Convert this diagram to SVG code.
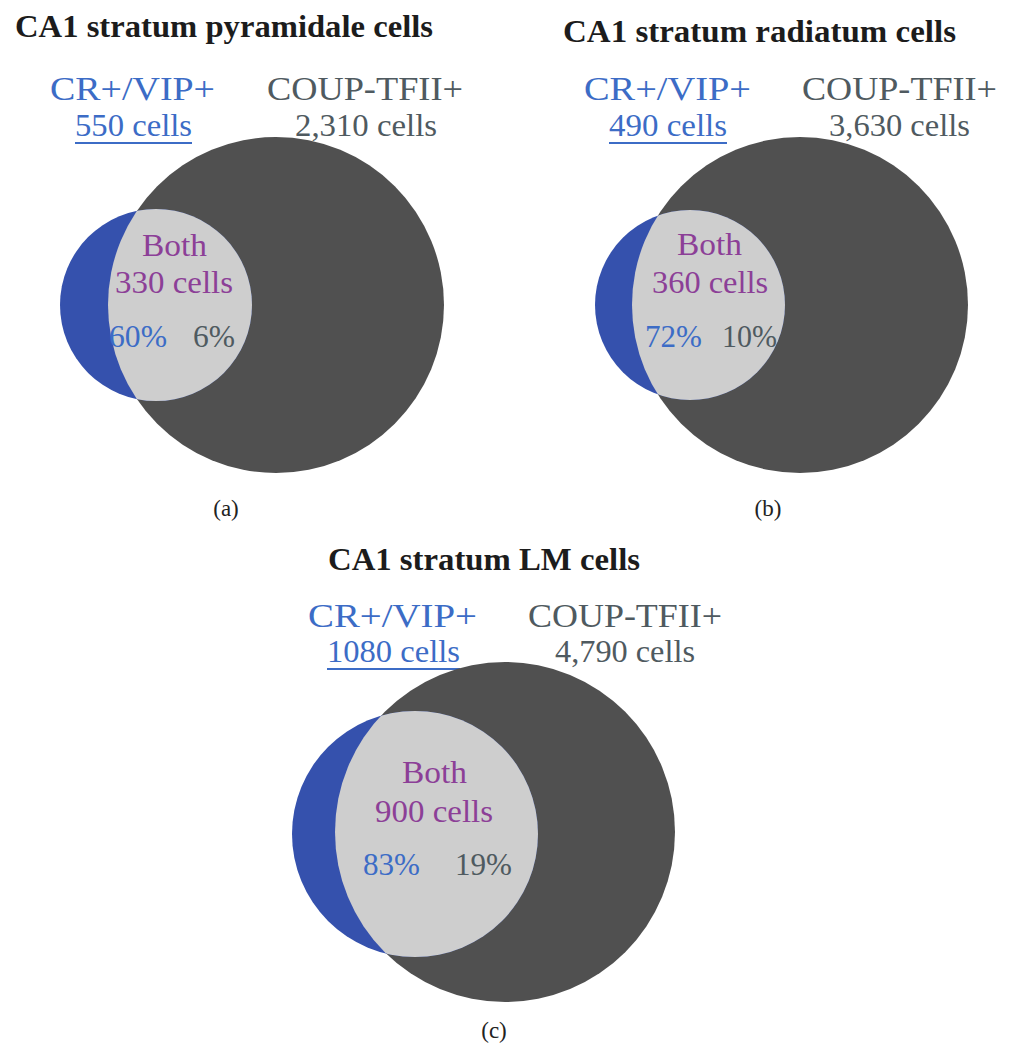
<svg xmlns="http://www.w3.org/2000/svg" width="1019" height="1050" viewBox="0 0 1019 1050">
<style>
text{font-family:"Liberation Serif","DejaVu Serif",serif}
.title{font-size:31px;font-weight:bold;fill:#1c1c1c}
.lab{font-size:34px}
.cnt{font-size:31px}
.blue{fill:#3c6cc6}
.gry{fill:#4f5a60}
.pur{fill:#8c3f97}
.cap{font-size:23px;fill:#222}
.dark{fill:#505050}
.bl{fill:#3551ad}
.lg{fill:#cecece}
.ul{stroke:#3c6cc6;stroke-width:2}
</style>
<defs>
<clipPath id="ca"><circle cx="276" cy="305" r="168"/></clipPath>
<clipPath id="cb"><circle cx="800" cy="305" r="168"/></clipPath>
<clipPath id="cc"><circle cx="505" cy="832" r="170"/></clipPath>
</defs>
<rect width="1019" height="1050" fill="#ffffff"/>

<g id="venn-a">
<text class="title" x="15" y="37" textLength="418" lengthAdjust="spacingAndGlyphs">CA1 stratum pyramidale cells</text>
<text class="lab blue" x="50" y="100" textLength="165" lengthAdjust="spacingAndGlyphs">CR+/VIP+</text>
<text class="cnt blue" x="75" y="136" textLength="117" lengthAdjust="spacingAndGlyphs">550 cells</text>
<line class="ul" x1="75" y1="143" x2="192" y2="143"/>
<text class="lab gry" x="267" y="100" textLength="196" lengthAdjust="spacingAndGlyphs">COUP-TFII+</text>
<text class="cnt gry" x="295" y="136" textLength="142" lengthAdjust="spacingAndGlyphs">2,310 cells</text>
<circle class="dark" cx="276" cy="305" r="168"/>
<circle class="bl" cx="156" cy="305" r="96"/>
<circle class="lg" cx="156" cy="305" r="96" clip-path="url(#ca)"/>
<text class="cnt pur" x="142" y="256" textLength="65" lengthAdjust="spacingAndGlyphs">Both</text>
<text class="cnt pur" x="115" y="293" textLength="118" lengthAdjust="spacingAndGlyphs">330 cells</text>
<text class="cnt blue" x="109" y="347" textLength="58" lengthAdjust="spacingAndGlyphs">60%</text>
<text class="cnt gry" x="193" y="347" textLength="42" lengthAdjust="spacingAndGlyphs">6%</text>
<text class="cap" x="226" y="516" text-anchor="middle">(a)</text>
</g>

<g id="venn-b">
<text class="title" x="563" y="42" textLength="393" lengthAdjust="spacingAndGlyphs">CA1 stratum radiatum cells</text>
<text class="lab blue" x="584" y="100" textLength="167" lengthAdjust="spacingAndGlyphs">CR+/VIP+</text>
<text class="cnt blue" x="609" y="136" textLength="118" lengthAdjust="spacingAndGlyphs">490 cells</text>
<line class="ul" x1="609" y1="143" x2="727" y2="143"/>
<text class="lab gry" x="802" y="100" textLength="195" lengthAdjust="spacingAndGlyphs">COUP-TFII+</text>
<text class="cnt gry" x="829" y="136" textLength="141" lengthAdjust="spacingAndGlyphs">3,630 cells</text>
<circle class="dark" cx="800" cy="305" r="168"/>
<circle class="bl" cx="690" cy="305" r="95"/>
<circle class="lg" cx="690" cy="305" r="95" clip-path="url(#cb)"/>
<text class="cnt pur" x="677" y="255" textLength="65" lengthAdjust="spacingAndGlyphs">Both</text>
<text class="cnt pur" x="652" y="293" textLength="116" lengthAdjust="spacingAndGlyphs">360 cells</text>
<text class="cnt blue" x="645" y="347" textLength="57" lengthAdjust="spacingAndGlyphs">72%</text>
<text class="cnt gry" x="722" y="347" textLength="55" lengthAdjust="spacingAndGlyphs">10%</text>
<text class="cap" x="768" y="516" text-anchor="middle">(b)</text>
</g>

<g id="venn-c">
<text class="title" x="328" y="570" textLength="312" lengthAdjust="spacingAndGlyphs">CA1 stratum LM cells</text>
<text class="lab blue" x="308" y="627" textLength="169" lengthAdjust="spacingAndGlyphs">CR+/VIP+</text>
<text class="cnt blue" x="327" y="662" textLength="133" lengthAdjust="spacingAndGlyphs">1080 cells</text>
<line class="ul" x1="327" y1="669" x2="460" y2="669"/>
<text class="lab gry" x="528" y="627" textLength="194" lengthAdjust="spacingAndGlyphs">COUP-TFII+</text>
<text class="cnt gry" x="555" y="662" textLength="140" lengthAdjust="spacingAndGlyphs">4,790 cells</text>
<circle class="dark" cx="505" cy="832" r="170"/>
<circle class="bl" cx="415" cy="834" r="123"/>
<circle class="lg" cx="415" cy="834" r="123" clip-path="url(#cc)"/>
<text class="cnt pur" x="402" y="783" textLength="65" lengthAdjust="spacingAndGlyphs">Both</text>
<text class="cnt pur" x="375" y="822" textLength="118" lengthAdjust="spacingAndGlyphs">900 cells</text>
<text class="cnt blue" x="363" y="875" textLength="57" lengthAdjust="spacingAndGlyphs">83%</text>
<text class="cnt gry" x="455" y="875" textLength="57" lengthAdjust="spacingAndGlyphs">19%</text>
<text class="cap" x="494" y="1038" text-anchor="middle">(c)</text>
</g>
</svg>
